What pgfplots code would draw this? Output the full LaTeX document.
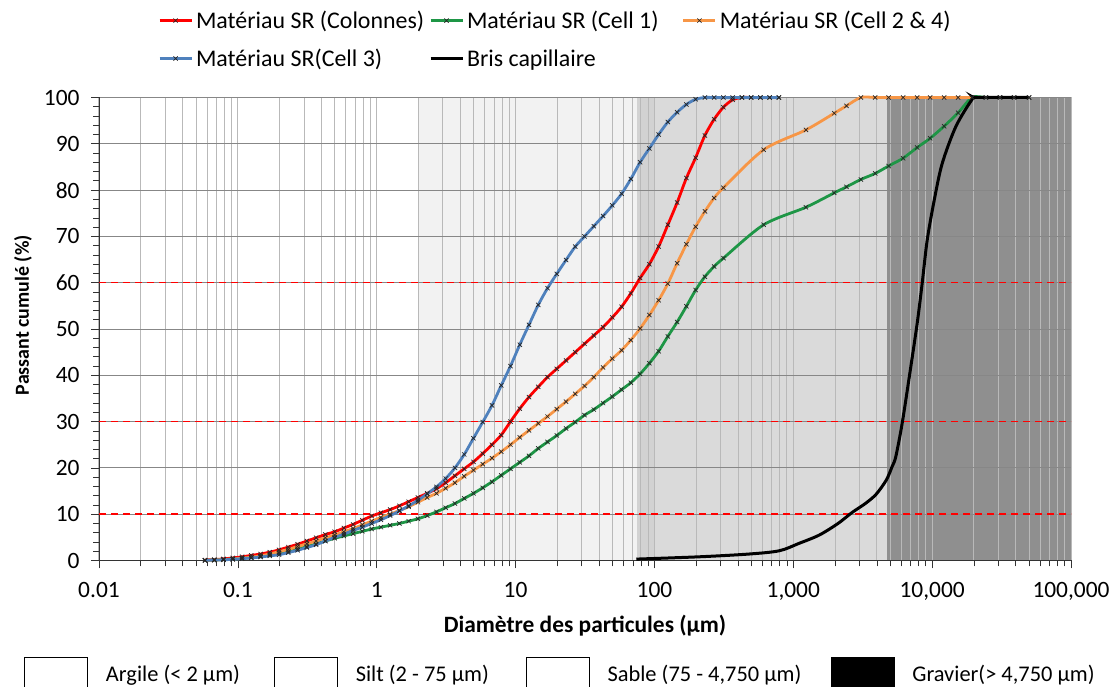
\documentclass[border=0pt]{standalone}
\usepackage{fontspec}
\setmainfont{Carlito}
\usepackage{pgfplots}
\pgfplotsset{compat=1.18}
\definecolor{cRed}{RGB}{255,0,0}
\definecolor{cGreen}{RGB}{30,150,70}
\definecolor{cOrange}{RGB}{247,150,70}
\definecolor{cBlue}{RGB}{79,129,189}
\definecolor{cSilt}{RGB}{242,242,242}
\definecolor{cSable}{RGB}{218,218,218}
\definecolor{cSableB}{RGB}{210,210,210}
\definecolor{cGravier}{RGB}{143,143,143}
\definecolor{gridV}{RGB}{185,185,185}
\definecolor{gridH}{RGB}{135,135,135}
\newcommand{\fs}{\fontsize{23.5}{27}\selectfont}
\newcommand{\fl}{\fontsize{24}{28}\selectfont}
\newcommand{\fb}{\fontsize{22.5}{26}\selectfont}
\newcommand{\fy}{\fontsize{20}{24}\selectfont}
\newcommand{\lt}[1]{\makebox[231bp][l]{#1}}
\newcommand{\lm}[1]{\makebox[213bp][l]{#1}}
\begin{document}
\begin{tikzpicture}[x=1bp,y=1bp]
\begin{axis}[
  set layers=standard,
  scale only axis, width=972bp, height=463bp,
  xmode=log, xmin=0.01, xmax=100000, ymin=0, ymax=100,
  clip=false,
  axis x line*=bottom, axis y line*=left,
  axis line style={-, draw=black!80, line width=0.9bp},
  xtick={0.01,0.1,1,10,100,1000,10000,100000},
  xticklabels={0.01,0.1,1,10,100,{1,000},{10,000},{100,000}},
  ytick={0,10,...,100},
  minor y tick num=4,
  tick align=outside,
  major tick length=8bp, minor tick length=6bp,
  tick style={black!80, line width=0.7bp},
  xmajorgrids, xminorgrids, ymajorgrids,
  major x grid style={gridV, line width=1bp},
  minor x grid style={gridV, line width=1bp},
  major y grid style={gridH, line width=0.9bp},
  /pgf/number format/assume math mode=true,
  ticklabel style={font=\fs},
  xticklabel style={yshift=-10bp},
  yticklabel shift=8bp,
  xlabel={\bfseries Diamètre des particules (µm)},
  ylabel={\bfseries Passant cumulé (\%)},
  xlabel style={at={(axis description cs:0.5,-0.1415)}, anchor=center, font=\fs},
  ylabel style={at={(axis description cs:-0.0782,0.53)}, anchor=center, font=\fy},
  legend columns=3,
  legend cell align=left,
  legend style={at={(axis description cs:0.0607,1.187)}, anchor=north west,
    draw=none, fill=none, font=\fl, inner sep=0pt, row sep=19bp,
    nodes={inner sep=0pt},
    /tikz/every odd column/.append style={column sep=3bp},
    /tikz/every even column/.append style={column sep=2bp}},
  legend image code/.code={\draw[mark repeat=2, mark phase=2, #1] plot coordinates {(0bp,0bp) (16bp,0bp) (32bp,0bp)};},
  every axis plot/.append style={line width=2.8bp},
  mark options={solid, draw=black!85, line width=0.7bp},
]
% particle-size zones
\addplot[fill=cSilt, draw=none, on layer=axis background, forget plot] coordinates {(2,0) (75,0) (75,100) (2,100)};
\addplot[fill=cSable, draw=none, on layer=axis background, forget plot] coordinates {(75,0) (4750,0) (4750,100) (75,100)};
\addplot[fill=cSableB, draw=none, on layer=axis background, forget plot] coordinates {(75,0) (100,0) (100,100) (75,100)};
\addplot[fill=cGravier, draw=none, on layer=axis background, forget plot] coordinates {(4750,0) (100000,0) (100000,100) (4750,100)};
% reference levels
\addplot[cRed, line width=1.6bp, dash pattern=on 7bp off 5bp, forget plot] coordinates {(0.01,10) (100000,10)};
\addplot[cRed, line width=1.6bp, dash pattern=on 7bp off 5bp, forget plot] coordinates {(0.01,30) (100000,30)};
\addplot[cRed, line width=1.6bp, dash pattern=on 7bp off 5bp, forget plot] coordinates {(0.01,60) (100000,60)};

% Matériau SR (Colonnes)
\addplot[cRed, smooth, mark=x, mark size=3bp] coordinates {
(0.0580,0.1)(0.0676,0.2)(0.0788,0.35)(0.0919,0.55)(0.1072,0.8)(0.1249,1.1)(0.1457,1.4)(0.1698,1.8)(0.1980,2.3)(0.2309,2.9)
(0.2692,3.5)(0.3139,4.2)(0.3659,4.9)(0.4267,5.6)(0.4975,6.2)(0.5800,7.0)(0.6762,7.8)(0.7884,8.7)(0.9192,9.6)(1.072,10.3)
(1.249,11.0)(1.457,11.8)(1.698,12.7)(1.980,13.6)(2.309,14.5)(2.692,15.5)(3.139,16.8)(3.659,18.3)(4.267,19.8)(4.975,21.3)
(5.800,23.1)(6.762,25.0)(7.884,27.1)(9.192,30.0)(10.72,32.8)(12.49,35.3)(14.57,37.5)(16.98,39.6)(19.80,41.4)(23.09,43.2)
(26.92,45.0)(31.39,46.8)(36.59,48.6)(42.67,50.4)(49.75,52.5)(58.00,54.8)(67.62,57.7)(78.84,61.0)(91.92,64.0)(107.2,67.8)
(124.9,72.5)(145.7,77.3)(169.9,82.6)(198.0,87.0)(230.9,91.8)(269.2,95.3)(313.9,97.9)(365.9,99.5)(426.7,100)(497.5,100)
(580.0,100)(676.2,100)(788.4,100)};
\addlegendentry{\lt{Matériau SR (Colonnes)}}

% Matériau SR (Cell 1)
\addplot[cGreen, smooth, mark=x, mark size=3bp] coordinates {
(0.0580,0.05)(0.0676,0.1)(0.0788,0.2)(0.0919,0.3)(0.1072,0.45)(0.1249,0.65)(0.1457,0.9)(0.1698,1.2)(0.1980,1.6)(0.2309,2.0)
(0.2692,2.5)(0.3139,3.0)(0.3659,3.6)(0.4267,4.2)(0.4975,4.8)(0.5800,5.3)(0.6762,5.8)(0.7884,6.3)(0.9192,6.8)(1.072,7.2)
(1.249,7.6)(1.457,8.0)(1.698,8.5)(1.980,9.0)(2.309,9.7)(2.692,10.5)(3.139,11.4)(3.659,12.3)(4.267,13.4)(4.975,14.5)
(5.800,15.7)(6.762,17.0)(7.884,18.4)(9.192,19.8)(10.72,21.2)(12.49,22.6)(14.57,24.2)(16.98,25.6)(19.80,27.0)(23.09,28.5)
(26.92,29.9)(31.39,31.4)(36.59,32.6)(42.67,34.0)(49.75,35.4)(58.00,36.9)(67.62,38.4)(78.84,40.3)(91.92,42.6)(107.2,45.2)
(124.9,48.4)(145.7,51.5)(169.9,54.9)(198.0,58.4)(230.9,61.3)(269.2,63.5)(313.9,65.3)
(611,72.5)(1233,76.3)(1973,79.4)(2417,80.7)(3069,82.3)(3890,83.6)(4850,85.2)(6180,86.9)(7800,89.2)(9680,91.2)
(12200,93.8)(15400,96.7)(19400,100)(24400,100)(30800,100)(38900,100)(49900,100)};
\addlegendentry{\lm{Matériau SR (Cell 1)}}

% Matériau SR (Cell 2 & 4)
\addplot[cOrange, smooth, mark=x, mark size=3bp] coordinates {
(0.0580,0.05)(0.0676,0.1)(0.0788,0.2)(0.0919,0.3)(0.1072,0.5)(0.1249,0.7)(0.1457,1.0)(0.1698,1.4)(0.1980,1.9)(0.2309,2.4)
(0.2692,3.0)(0.3139,3.6)(0.3659,4.2)(0.4267,4.9)(0.4975,5.5)(0.5800,6.2)(0.6762,6.9)(0.7884,7.7)(0.9192,8.5)(1.072,9.3)
(1.249,10.0)(1.457,10.8)(1.698,11.6)(1.980,12.6)(2.309,13.6)(2.692,14.5)(3.139,15.6)(3.659,16.8)(4.267,18.2)(4.975,19.5)
(5.800,20.8)(6.762,22.1)(7.884,23.5)(9.192,25.0)(10.72,26.6)(12.49,28.1)(14.57,29.6)(16.98,31.1)(19.80,32.7)(23.09,34.3)
(26.92,36.0)(31.39,37.7)(36.59,39.6)(42.67,41.7)(49.75,43.6)(58.00,45.4)(67.62,47.6)(78.84,50.1)(91.92,53.0)(107.2,56.2)
(124.9,59.8)(145.7,64.2)(169.9,68.3)(198.0,72.1)(230.9,75.4)(269.2,78.3)(313.9,80.5)
(611,88.7)(1233,93.0)(1973,96.6)(2417,98.2)(3069,100)(3890,100)(4850,100)(6180,100)(7800,100)(9680,100)
(12200,100)(15400,100)(19400,100)(24400,100)(30800,100)(38900,100)(49900,100)};
\addlegendentry{\lt{Matériau SR (Cell 2 \& 4)}}

% Matériau SR (Cell 3)
\addplot[cBlue, smooth, mark=x, mark size=3bp] coordinates {
(0.0580,0.05)(0.0676,0.1)(0.0788,0.15)(0.0919,0.25)(0.1072,0.4)(0.1249,0.55)(0.1457,0.75)(0.1698,1.0)(0.1980,1.25)(0.2309,1.7)
(0.2692,2.2)(0.3139,2.8)(0.3659,3.4)(0.4267,4.2)(0.4975,5.0)(0.5800,5.7)(0.6762,6.5)(0.7884,7.2)(0.9192,8.0)(1.072,8.8)
(1.249,9.7)(1.457,10.7)(1.698,11.8)(1.980,13.0)(2.309,14.4)(2.692,15.9)(3.139,17.7)(3.659,20.0)(4.267,22.9)(4.975,26.4)
(5.800,29.9)(6.762,33.5)(7.884,37.8)(9.192,42.0)(10.72,46.6)(12.49,50.9)(14.57,55.2)(16.98,58.8)(19.80,61.9)(23.09,64.9)
(26.92,67.8)(31.39,70.0)(36.59,72.2)(42.67,74.4)(49.75,76.7)(58.00,79.2)(67.62,82.4)(78.84,86.0)(91.92,89.0)(107.2,92.0)
(124.9,94.7)(145.7,96.8)(169.9,98.5)(198.0,99.6)(230.9,100)(269.2,100)(313.9,100)(365.9,100)(426.7,100)(497.5,100)
(580.0,100)(676.2,100)(788.4,100)};
\addlegendentry{\lt{Matériau SR(Cell 3)}}

% Bris capillaire
\addplot[black, smooth, line width=3bp] coordinates {
(74,0.3)(211,0.8)(482,1.4)(793,2.1)(1100,3.7)(1540,5.5)(2100,8.0)(2660,10.4)(3300,12.3)(3950,14.3)(4680,17.4)(5150,20.3)
(5470,22.4)(6080,29.6)(6840,39.6)(7800,51.2)(8470,59.8)(9200,69.1)(10330,77.7)(11800,85.7)(14800,93.7)(19400,99.6)
(21000,100)(50000,100)};
\addlegendentry{\lm{Bris capillaire}}
\end{axis}

% zone legend
\begin{axis}[
  scale only axis, width=972bp, height=463bp,
  hide axis, xmin=0, xmax=1, ymin=0, ymax=1,
  legend columns=4,
  legend style={at={(axis description cs:-0.0772,-0.245)}, anchor=west,
    draw=none, fill=none, font=\fb, inner sep=0pt,
    nodes={inner sep=0pt},
    /tikz/every odd column/.append style={column sep=18bp},
    /tikz/every even column/.append style={column sep=0bp}},
  legend image code/.code={\draw[#1] (0bp,-17bp) rectangle (63bp,17bp);},
]
\addplot[draw=none, forget plot] coordinates {(0,0) (1,1)};
\addlegendimage{draw=black, fill=white, line width=0.8bp}
\addlegendentry{\makebox[168bp][l]{Argile (< 2 µm)}}
\addlegendimage{draw=black, fill=white, line width=0.8bp}
\addlegendentry{\makebox[170bp][l]{Silt (2 - 75 µm)}}
\addlegendimage{draw=black, fill=white, line width=0.8bp}
\addlegendentry{\makebox[223bp][l]{Sable (75 - 4,750 µm)}}
\addlegendimage{draw=black, fill=black, line width=0.8bp}
\addlegendentry{Gravier(> 4,750 µm)}
\end{axis}
\pgfresetboundingbox
\useasboundingbox (-99,-126.5) rectangle (1017,560.5);
\end{tikzpicture}
\end{document}
